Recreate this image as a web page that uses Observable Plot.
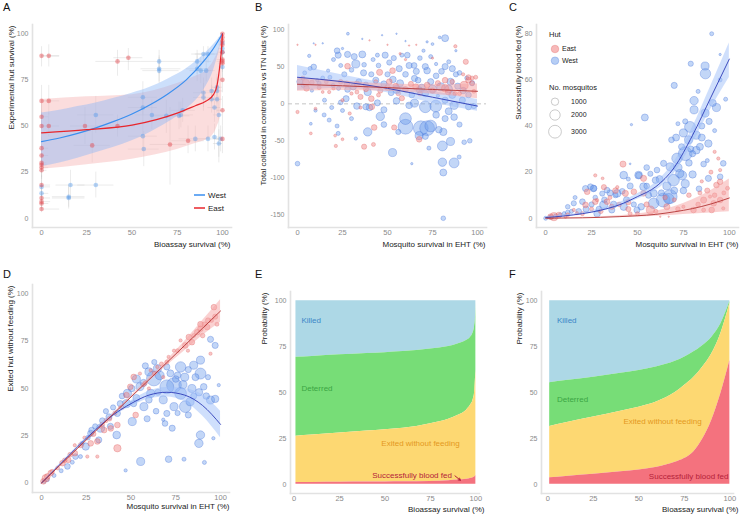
<!DOCTYPE html>
<html><head><meta charset="utf-8">
<script src="https://cdn.jsdelivr.net/npm/d3@7"></script>
<script src="https://cdn.jsdelivr.net/npm/@observablehq/plot@0.6"></script>
<style>
body{margin:0;background:#fff;}
#root{position:relative;width:740px;height:519px;overflow:hidden;background:#fff;font-family:'Liberation Sans',Arial,sans-serif;}
.lt{position:absolute;font-family:'Liberation Sans',Arial,sans-serif;font-size:11px;color:#111;line-height:1;}
</style></head><body><div id="root"></div>
<script>
const FONT = "'Liberation Sans',Arial,sans-serif";
// ---------- Panel A: points [x, y, xlo, xhi, ylo, yhi]
const aEast = [
 [0,88,0,10,82,93],[4,88,0,10,82,94],[42,85,30,55,77,91],[48,87,40,56,80,92],
 [0,63.6,0,6,55,72],[4,63.6,0,10,56,72],[0,55,0,4,48,62],[0,50,0,5,42,58],[4,50,0,10,44,57],
 [24,50,16,33,40,60],[42,50,32,52,44,56],[28,39.5,18,38,30,49],[71,40,60,80,18,60],
 [81,42,72,90,35,50],[100,43,97,100,35,50],
 [0,38,0,4,32,44],[0,34,0,4,28,40],[0,30,0,3,25,35],[0,29,0,3,24,34],[0,27.5,0,4,22,33],[0,26,0,3,21,31],
 [0,18,0,5,12,24],[0,11,0,5,7,15],[0,9,0,5,5,13],[0,8,0,4,5,11],[0,5,0,10,3,8],
 [100,100,99,100,97,100],[100,98,98,100,95,100],[100,96,98,100,93,99],[100,94,98,100,90,98],[100,90,98,100,86,94],
 [100,86,97,100,81,90],[100,85,97,100,80,90],[100,84,98,100,79,89],[100,75,97,100,68,82],[100,58.5,97,100,50,66]
];
const aWest = [
 [65,85,55,78,78,91],[65,81,55,77,74,88],[65,80,56,76,73,87],[86,85,78,94,78,91],[86,81,80,92,74,88],
 [88,80,82,94,73,87],[91,80,85,96,74,86],[89.5,89,83,96,84,93],[92,89,85,98,84,93],
 [100,95,98,100,91,98],[100,92,98,100,88,96],[100,90,98,100,85,94],[100,82,98,100,76,88],
 [30,56,20,40,46,66],[56,65.6,48,64,56,74],[56,60,48,64,52,68],[61,56,52,70,48,64],[69,55.5,62,76,46,64],
 [76,55.5,70,82,48,63],[77,56,70,84,49,63],[78,58.5,72,85,52,65],
 [89.5,68,84,95,60,76],[89.5,65.5,84,95,58,73],[94,69,90,98,62,76],[97,71,94,100,64,78],[97,69,94,100,62,76],
 [94,64.5,90,98,57,72],[97,64.5,94,100,57,72],[95.6,60,92,99,52,68],[98,56,95,100,30,66],
 [56,44.5,48,64,36,53],[56.5,37.5,48,65,28,47],[85,43,76,93,36,50],[92,43,86,98,36,50],[95.6,44,92,99,37,51],
 [98,40.5,95,100,33,48],[99,43,96,100,36,50],
 [16,18,8,24,10,26],[30,18,20,40,11,25],[0,17,0,5,11,23],[15,11.7,6,24,6,18],[15,11,6,24,5,17],[0,13.5,0,4,8,19]
];
const westX   = [0,10,20,30,40,50,60,70,80,90,95,100];
const westFit = [41.5,43.5,46,49,52.5,56.5,61.5,67.5,75,85.5,92,100];
const westLo  = [28,30,32.5,35.5,38.5,42,46.5,52,59,70,80,98];
const westHi  = [57,58.5,60.5,62.5,65,67.8,71,75.5,81,89,94,100];
const eastX   = [0,25,50,75,85,91,95,97,98.7,99.5,100];
const eastFit = [46.3,48,50.5,57,61,63.5,67,72,84,92,100];
const eastLo  = [26.5,29,32,37.3,40.5,42.5,45.5,49.5,55,65,100];
const eastHi  = [64.3,65.8,67,73,77,80,85,89,94,97,100];

// ---------- Panel B: [x, y, n mosquitos]
const bWest = [
[28,95,150],[47,93,40],[82,89,900],[79,90,150],[14,82,40],[9,82,30],
[22.6,66,700],[27.8,67,700],[31.5,64,700],[36,67,900],[32.4,54,1200],[36.7,42,700],[22,72,600],
[6.5,65,200],[9,50,600],[7,48,300],[1.3,30,700],
[44.4,66,300],[48.7,66,700],[53.5,62,500],[58,66,300],[61,66,600],
[56.5,47.7,700],[64.8,52,600],[71,50.5,700],[72,45,800],[77,54,200],[82,50.5,700],[86,47.7,700],
[65,34.5,700],[67,32,600],[74,30,700],[79.6,23,1200],
[43.5,32,700],[48,27,700],[39,16,1000],[55,19.5,1100],[52,15,600],
[27,7,700],[33,-3,800],[40,-5,800],[46,-17,1300],
[62,-2,800],[65,1,1200],[71,-4,2500],[76.8,-3,2500],[82,5,700],[87,-2,1200],
[60,-20,2500],[60,-31,4000],[68.5,-33,4000],[72,-33,4000],[74,-30,2500],[77,-15,800],[82,-20,700],[87,-18,800],
[39,-38,1300],[52.8,-66,1200],[67.6,-43,1200],[71,-44,700],[80.5,-57,1800],[85,-51,1200],[78.5,-35,800],[81,-38,1000],
[80.5,-79,1300],[87,-80,1800],[81,-93,900],[92.6,-52,400],[95.7,-50,400],[89.8,-72,300],
[0,-81,400],[63.5,-81,100],[81,-155,400],
[17.6,-22,300],[22,-30,300],[22.6,-40,300],[32.4,-47,200],[10,-9,200],[14.8,-15,300],[7.4,-27,150],[25,-9,300],[38,-4,700],
[22.8,21,300],[19.8,25,300],[14,35,300],[11,32,200],[27.8,19.5,600],[31,23,700],
[48,-8,700],[44.4,1.4,700],[55,4,800],[63.5,12,600],[67.6,19,700],[78,11,200],[91.6,5,700],[95,12,600],[97,28,500],
[85,30,900],[88,40,500],[90,42,400],[4,42,300],[17,45,200],[24,52,300],[37,53,400],[42,60,300],[51,56,500],
[68,62,400],[74,64,300],[84,57,300],[94,35,300],
[3,25,300],[8,18,200],[12,28,300],[18,36,300],[20,60,300],[26,40,500],[30,46,400],[34,30,600],[38,26,500],
[41,40,500],[45,52,400],[50,40,500],[53,33,800],[57,28,900],[60,40,600],[62,52,700],[66,44,700],[69,22,900],
[71,14,800],[75,20,1200],[77,38,600],[80,44,600],[84,20,1100],[86,12,900],[89,24,700],[92,18,800],[95,-4,700],
[98,-3,500],[84,-10,900],[90,-28,500],[73,-60,300],[56,-38,500],[48,-28,600],[30,-20,300],[15,5,300],[19,-5,300],
[24,2,400],[70,72,200],[75,81,150],[72,84,100],[88,72,100],[60,85,40],[55,95,40],[36,88,40],[25,75,100]
];
const bEast = [
[0,80,40],[10,80,40],[40,86,40],[50,80,40],[62,79,40],[66,80,40],[87.7,78,200],
[4.6,28.5,900],[5,21,600],[27.8,51,600],[27.4,27,600],[33,27,600],[45.6,42.7,700],[52.8,45,600],[51,30,600],[43.5,30,300],
[20,21,200],[17.6,16,200],[14,16,150],[30,14,200],[35,9.5,500],[41,7,600],[41.3,-4,600],[35,-5,200],[29,-13,200],
[0,-11,200],[10,-6.5,150],[7.4,-40,150],[20.9,-43,150],[21.3,-57,200],[25,-48,150],[37,-58,500],[42.2,-55,300],
[42.6,-32,600],[53.7,-32,500],[67.6,-48,600],
[82,32,600],[83.7,16,600],[87.5,14,300],[93.5,57,500],[95,32,600],[97,28,400],[92.6,25,1200],[82,21,1000],
[60,19.5,600],[58,7.7,500],[54.6,24,600],[65.7,23,700],[72,25.5,600],
[90,14,300],[98,17,300],[97,35,300],[92,40,200],
[3,35,300],[8,29,400],[12,22,300],[16,30,300],[24,30,400],[33,16,300],[38,20,500],[46,18,500],[50,22,600],
[56,14,400],[63,27,500],[68,14,400],[75,18,500],[78,28,500],[86,30,400],[95,36,500],[99,36,300],[45,12,300],
[25,5,200],[60,60,100],[57,68,100],[75,62,100]
];
const bX       = [0,25,50,75,100];
const bWestFit = [36,30,21,9,-3];
const bWestLo  = [18,21,15,1,-10];
const bWestHi  = [52,39,27,17,6];
const bEastFit = [26.5,24.5,22,19.5,17];
const bEastLo  = [17,18,17,13,7];
const bEastHi  = [35,31,27,26,27];

// ---------- Panel C: [x, y, n]
const cWest = [
[90.4,80,300],[95,71,100],[79,67,500],[86.8,66,1200],[87,62.7,2000],[70,57.6,700],[98,51.6,300],
[54,43.7,900],[46.7,40.6,100],[80.8,51,1300],[80.8,47,1200],[86.8,45.6,1200],[91,50,900],[93,48,1200],
[78.6,39.6,2200],[75,37,1200],[82,36,1200],[77.8,34,1200],[85,35,900],[88.6,32.4,1000],[71,35,900],[68.5,34,600],
[79,30,700],[82,29.5,1100],[74,31,700],
[76,28,3500],[71.5,26,2000],[67.8,22.3,1200],[64.2,23.8,700],[86,23.5,600],[88,25,300],[96.7,23.8,600],
[69.6,16.5,2500],[73,19.4,1200],[76,15,1200],[80,19,1000],
[64,7.9,3500],[67.8,9.4,3500],[58.8,6.5,2000],[56,10,700],[50.6,18.7,1100],[42.5,18.7,1100],[46,14,700],
[38.9,10.8,1100],[33.4,12.2,600],[26.2,13,700],[24.4,13.7,600],[20,7.2,600],[15.3,6.5,500],[10,2.2,200],
[5.4,1,300],[1.8,0.4,200],
[31.6,5.8,1200],[36,3.6,700],[42.5,5,1000],[49.7,3.6,700],[53.3,13.7,1100],[58.8,10.8,1000],[60.6,20.9,600],
[55,22,600],[46,23.6,60],[75,12,800],[83.5,12.8,600],[88.6,17.3,700],[95,18,600],
[0,0,300],[3,0.5,400],[8,1.5,300],[12,2.5,400],[18,3,600],[22,4,700],[28,2,800],
[12,5,400],[14,3,300],[16,9,300],[21.7,12.9,700],[26,12.9,800],[25,6,500],[27,9,400],[29,4,600],[30.8,10.7,500],
[32,8,600],[35,11,700],[37,6,800],[38,10,500],[41.7,11.7,600],[44,8,700],[45,17,300],[48,6,500],[50.7,18.6,700],
[52,5,800],[55,14,600],[57,19.3,500],[59.8,16.5,800],[62,17,900],[63,11,700],[66,14,1200],[67,8.5,2000],[70,12,900],
[72,22,1300],[74.3,18.6,1500],[78,24,800],[80,28,700],[84,31,900],[85,40,700],[72,41,300],[89,42,700],[92,38,300],
[76,42,500],[83,55,300],[95,60,300]
];
const cEast = [
[42.1,23.5,700],[53.3,17.3,700],[31,17.3,150],[22.6,11.5,600],[28,7.9,200],[33.4,7.2,600],[43.4,10.8,700],
[48,11.5,600],[39,13.5,200],[53.3,10.8,600],
[57,3.6,1200],[66,5,700],[80.5,3.6,600],[86,7.9,700],[89.5,9.4,200],[93,14.4,600],[95,15.8,600],[92,28.8,200],
[94,25.9,200],[95,20.9,200],
[86,3.6,300],[90.4,3.6,600],[96.7,4.3,200],[95,7.9,600],[91.5,6.5,600],[75,5,200],[62.4,0.7,40],[67,0.7,40],
[15.3,3.6,200],[10.8,0.7,200],[7.2,1.4,600],[4.5,0.7,1200],[2.7,0.7,600],[17,2.2,200],[21.7,5.8,600],[27,7.2,600],
[35,9,300],[40,6,400],[45,4,500],[50,2,300],[70,8,300],[78,10,400],[84,11,300],[97,11,300],
[27,18.6,200],[31.7,13.5,500],[38,12,600],[36,5,500],[25,4,300],[30,3,400],[45,7,500],[55,6,500],[60,3,300],
[65,9,400],[72,4,400],[83,6,400],[88,12,500],[92,10,400],[99,13,300],[90,20,300],[85,16,200],[46,2,300],
[20,2,300],[12,1.5,300]
];
const cX       = [0,10,20,30,40,50,60,70,80,90,100];
const cWestFit = [0.3,1,2,3.5,5.8,9.4,13.7,22,36,52.5,69];
const cWestLo  = [0.1,0.7,1.6,2.9,5,8.3,12,19.5,32.5,47.5,61];
const cWestHi  = [0.6,1.4,2.5,4.2,6.7,10.6,15.5,24.5,39.5,57.5,76];
const cEastFit = [0,0.1,0.2,0.4,0.7,1.1,1.7,2.8,4.2,6.2,8.8];
const cEastLo  = [0,0,0.1,0.2,0.4,0.6,0.9,1.3,1.8,2.3,2.8];
const cEastHi  = [0.1,0.2,0.4,0.7,1.1,1.8,3,5,8,12,17];

// ---------- Panel D: [x, y, n]
const dWest = [
[88.8,65,1200],[94.4,76,700],[97,72.8,700],[99,51.8,200],[88.8,25.4,1300],[87.9,21,1300],[96,23.7,200],
[77.7,61.4,2000],[85,62.3,1200],[88.8,57.9,2200],[94.4,43.9,1200],[97,44.5,1000],[90.6,50.9,800],
[70,61.4,700],[64.7,60.5,1200],[62.8,55.3,4000],[60,58.8,1200],[74,51.8,4000],[70,50.9,3500],[77.7,47.4,2500],
[80.3,40.4,2500],[83,43,1200],[74,40.4,1200],[70,36.8,700],[73,29,700],[69,31.5,600],[68,33.5,200],
[61,47.4,1200],[55,51,1200],[50.4,50,800],[48,47.4,1200],[47.5,42,1200],[51.5,42,700],[57.2,40.4,1200],
[59,34,700],[50.7,32.5,1200],[42.4,36.8,700],[44,42,700],
[55.4,11.4,1200],[71,12.6,800],[79.6,12.6,300],[91,10.9,300],[47,6.7,200],
[37.7,35,700],[33,29,1200],[32,22.8,700],[38.5,30,700],[27.5,26.3,700],[24.7,19.3,1000],[19,14,600],
[14.5,8.8,600],[11,6.5,300],[7,4,300],[3.3,1.8,300],[1.5,0.9,300],
[42,25.4,1100],[21.8,14,300],[17.2,11,300],[22.7,21,300],[65,48,700],[80,56,1200],[84,50,1200],[76,57,800],
[53,55,1200],[57,53,900],[58,62,700],[63,64,500],[66,57,1500],[68,44,1200],[72,58,900],[75,55,800],[79,52,1200],
[82,60,700],[86,56,900],[88,48,1000],[92,46,800],[93,56,500],[85,46,700],[82,36,700],[76,37,500],[64,38,600],
[60,44,800],[53,45,900],[45,46,600],[40,40,500],[36,38,500],[30,30,500],[28,28,600],[26,24,400],[34,33,600]
];
const dEast = [
[96.3,93,600],[88.8,84,600],[92.5,82.5,600],[87,79.8,600],[82.3,77.2,600],[84,74.5,600],[80.3,72.8,600],
[77.7,75.4,200],[74,70,200],[81.8,70,200],[71,66.7,200],[94.4,68.4,200],[88.8,81.6,600],
[64.7,61.4,200],[61,59.6,200],[55,57.9,200],[51.5,56.1,600],[49.6,50.9,600],[47.5,46.5,600],[52.6,36,600],
[42.4,30.7,600],[44,40,200],[38.7,28.9,600],[35,28,600],[33,29.8,200],[31.2,22,600],[27.5,21,600],[24,24,200],
[18.6,20,200],[18.6,15.8,600],[14.9,12.3,600],[11.7,10.5,600],[5.2,5.3,600],[3.3,3.5,600],[2.4,2.6,1000],
[1.1,0.9,600],[42.4,18.4,1000],[25.6,14,200],[31.2,14,200],
[36,33,300],[41,37,300],[57,52,300],[60,50,200],[67,63,300],[68,56,200],[90,78,400],[93,86,500],[98,84,300],
[6,6,400],[9,8,300],[13,12,400],[16,15,400],[22,20,500],[29,26,500],[34,31,400],[38,34,400],[45,40,300],
[58,53,300],[63,58,300],[70,64,300],[76,70,300],[85,78,300],[91,84,400],[95,86,300],[97,88,500]
];
const dX       = [0,10,20,30,40,50,60,70,80,90,100];
const dWestFit = [0,9.5,19,28,36,42,46.5,48,46.5,41,31];
const dWestLo  = [0,9,18.5,27.3,35,40.5,44.5,45.5,43,35.5,24];
const dWestHi  = [0,10,19.5,28.7,37,43.5,48.5,50.5,50,46.5,38];
const dEastFit = [0,9.1,18.2,27.3,36.4,45.5,54.6,63.7,72.8,81.9,91];
const dEastLo  = [0,9,18,27,36,45,53.5,62,70,78,85];
const dEastHi  = [0,9.2,18.4,27.6,36.8,46,55.5,65,75,86,97];

// ---------- Panels E & F: cumulative outcome boundaries (%)
const eX     = [1,10,25,40,50,60,75,85,90,95,97,98.5,99.3,99.8,100];
const eFed   = [1,1,1.1,1.2,1.3,1.4,1.6,2,2.3,2.8,3.2,3.6,4,4.5,5];
const eExit  = [26.2,26.8,28,29,29.7,30.5,33,35.5,37.5,40.5,43,46,50,58,62];
const eDeter = [69.2,69.6,70.5,71.2,71.7,72.3,73.7,75,76.4,78.5,80,82.5,86,91,98.5];
const fX     = [1,10,25,40,50,60,70,75,80,85,90,95,100];
const fFed   = [3.6,4.3,5.5,6.8,7.8,9.3,12,14,17.5,24.5,34.8,49.3,67.4];
const fExit  = [31.5,33.5,36.6,39.8,42,45,50,53.8,58,63.8,71,82,98.5];
const fDeter = [55.3,56.5,58.3,60.5,62,64,67,69.2,72,75.5,80,87.3,99.5];
const outcomeNames  = ["Killed","Deterred","Exited without feeding","Successfully blood fed"];
const outcomeFill   = ["#add8e6","#77dd77","#fdd872","#f4727e"];
const outcomeText   = ["#3b86c6","#3ca544","#e4991f","#b4223a"];
const eLabX = [4,4,48,43], eLabY = [89,52,22,4.6];
const fLabX = [5,5,41.5,55.5], fLabY = [89,46,34.5,4.4];
const eArrow = [88.5,4.6,91.5,2.2];

const COL = {west:"#3a8ff0", east:"#e8262c", wFill:"#6d9eeb", wStroke:"#3f6fd8", eFill:"#f08080", eStroke:"#df5a5a",
             wLine:"#2e3cb8", eLine:"#b33434", wRib:"#9fbff9", eRib:"#f6a4a4"};
const root = document.getElementById("root");
const ticks100 = [0,25,50,75,100];
const rScale = {type:"sqrt", domain:[0,3000], range:[0,6.4]};
const TITLE = 8, XTICK = 7.5, YTICK = 7;

function zipFit(xs, fit, lo, hi) { return xs.map((x,i)=>({x, fit:fit[i], lo:lo[i], hi:hi[i]})); }

function panel(o) {
  const opts = {
    width:o.w, height:o.h, marginLeft:o.ml, marginRight:o.mr, marginTop:o.mt, marginBottom:o.mb,
    x:{domain:o.xd}, y:{domain:o.yd},
    style:{fontFamily:FONT, background:"transparent", overflow:"visible", color:"#8a8a8a"},
    marks:[
      Plot.frame({anchor:"left", stroke:"#e2e2e2", strokeWidth:1.6}),
      Plot.frame({anchor:"bottom", stroke:"#e2e2e2", strokeWidth:1.6}),
      ...o.marks,
      Plot.axisX({ticks:o.xt, tickSize:0, tickPadding:2.5, tickFormat:d=>String(d), label:null, fill:"#8a8a8a", fontSize:XTICK}),
      Plot.axisY({ticks:o.yt, tickSize:0, tickPadding:4, tickFormat:d=>String(d), label:null, fill:"#8a8a8a", fontSize:YTICK}),
      Plot.text([o.xlab], {text:d=>d, frameAnchor:"bottom-right", textAnchor:"end", dy:o.xdy, dx:o.xdx||0, fontSize:TITLE, fill:"#222"}),
      Plot.text([o.ylab], {text:d=>d, frameAnchor:"top-left", textAnchor:"end", rotate:-90, dx:o.ydx, dy:1, fontSize:TITLE, fill:"#222"})
    ]
  };
  if (o.r) opts.r = o.r;
  const svg = Plot.plot(opts);
  svg.style.position = "absolute"; svg.style.left = o.left+"px"; svg.style.top = o.top+"px";
  root.appendChild(svg);
}

function bubbleMarks(west, east, fitX, wf, wl, wh, ef, el, eh) {
  const W = zipFit(fitX, wf, wl, wh), E = zipFit(fitX, ef, el, eh);
  return [
    Plot.dot(west, {x:d=>d[0], y:d=>d[1], r:d=>d[2], fill:COL.wFill, fillOpacity:0.42, stroke:COL.wStroke, strokeOpacity:0.55, strokeWidth:0.6}),
    Plot.dot(east, {x:d=>d[0], y:d=>d[1], r:d=>d[2], fill:COL.eFill, fillOpacity:0.45, stroke:COL.eStroke, strokeOpacity:0.5, strokeWidth:0.6}),
    Plot.areaY(W, {x:"x", y1:"lo", y2:"hi", fill:COL.wRib, fillOpacity:0.5, curve:"monotone-x"}),
    Plot.areaY(E, {x:"x", y1:"lo", y2:"hi", fill:COL.eRib, fillOpacity:0.5, curve:"monotone-x"}),
    Plot.line(W, {x:"x", y:"fit", stroke:COL.wLine, strokeWidth:0.9, curve:"monotone-x"}),
    Plot.line(E, {x:"x", y:"fit", stroke:COL.eLine, strokeWidth:0.9, curve:"monotone-x"})
  ];
}

// ----- A
{
  const W = zipFit(westX, westFit, westLo, westHi), E = zipFit(eastX, eastFit, eastLo, eastHi);
  const err = (data) => [
    Plot.ruleY(data, {y:d=>d[1], x1:d=>d[2], x2:d=>d[3], stroke:"#c8c8c8", strokeOpacity:0.45, strokeWidth:0.8}),
    Plot.ruleX(data, {x:d=>d[0], y1:d=>d[4], y2:d=>d[5], stroke:"#c8c8c8", strokeOpacity:0.45, strokeWidth:0.8})
  ];
  panel({left:0, top:0, w:245, h:260, ml:32, mr:14, mt:24, mb:33, xd:[-5,105], yd:[-5,105], xt:ticks100, yt:ticks100,
    xlab:"Bioassay survival (%)", xdy:19, xdx:-1, ylab:"Experimental hut survival (%)", ydx:-24,
    marks:[
      ...err(aWest), ...err(aEast),
      Plot.areaY(E, {x:"x", y1:"lo", y2:"hi", fill:"#f7b3b3", fillOpacity:0.45, curve:"monotone-x"}),
      Plot.areaY(W, {x:"x", y1:"lo", y2:"hi", fill:"#8fb8f7", fillOpacity:0.45, curve:"monotone-x"}),
      Plot.dot(aWest, {x:d=>d[0], y:d=>d[1], r:2.3, fill:"#4b97ee", fillOpacity:0.4}),
      Plot.dot(aEast, {x:d=>d[0], y:d=>d[1], r:2.3, fill:"#e5424a", fillOpacity:0.45}),
      Plot.line(W, {x:"x", y:"fit", stroke:COL.west, strokeWidth:1.2, curve:"monotone-x"}),
      Plot.line(E, {x:"x", y:"fit", stroke:COL.east, strokeWidth:1.2, curve:"monotone-x"})
    ]});
}
// ----- B
panel({left:245, top:0, w:245, h:260, ml:43, mr:4, mt:24, mb:33, xd:[-5,105], yd:[-167.5,107.5], xt:ticks100,
  yt:[-150,-100,-50,0,50,100], r:rScale,
  xlab:"Mosquito survival in EHT (%)", xdy:19, xdx:-1, ylab:"Total collected in control huts vs ITN huts (%)", ydx:-28,
  marks:[
    Plot.ruleY([0], {stroke:"#bdbdbd", strokeDasharray:"4,3", strokeWidth:0.9}),
    ...bubbleMarks(bWest, bEast, bX, bWestFit, bWestLo, bWestHi, bEastFit, bEastLo, bEastHi)
  ]});
// ----- C
panel({left:490, top:0, w:250, h:260, ml:46, mr:2, mt:24, mb:33, xd:[-5,105], yd:[-4,84], xt:ticks100,
  yt:[0,20,40,60,80], r:rScale,
  xlab:"Mosquito survival in EHT (%)", xdy:19, xdx:0, ylab:"Successfully blood fed (%)", ydx:-21,
  marks: bubbleMarks(cWest, cEast, cX, cWestFit, cWestLo, cWestHi, cEastFit, cEastLo, cEastHi)});
// ----- D
panel({left:0, top:260, w:245, h:259, ml:32, mr:16, mt:24, mb:27, xd:[-5,105], yd:[-5,105], xt:ticks100, yt:ticks100, r:rScale,
  xlab:"Mosquito survival in EHT (%)", xdy:16.5, xdx:0, ylab:"Exited hut without feeding (%)", ydx:-25,
  marks: bubbleMarks(dWest, dEast, dX, dWestFit, dWestLo, dWestHi, dEastFit, dEastLo, dEastHi)});

// ----- E & F
function stackMarks(xs, fed, exit, deter, labX, labY, arrow) {
  const rows = xs.map((x,i)=>({x, fed:fed[i], exit:exit[i], deter:deter[i]}));
  const labels = outcomeNames.map((t,i)=>({t, x:labX[i], y:labY[i], c:outcomeText[i]}));
  const m = [
    Plot.areaY(rows, {x:"x", y1:d=>d.deter, y2:100, fill:outcomeFill[0], curve:"monotone-x"}),
    Plot.areaY(rows, {x:"x", y1:"exit", y2:"deter", fill:outcomeFill[1], curve:"monotone-x"}),
    Plot.areaY(rows, {x:"x", y1:"fed", y2:"exit", fill:outcomeFill[2], curve:"monotone-x"}),
    Plot.areaY(rows, {x:"x", y1:0, y2:"fed", fill:outcomeFill[3], curve:"monotone-x"}),
    Plot.text(labels, {x:"x", y:"y", text:"t", fill:"c", textAnchor:"start", fontSize:TITLE})
  ];
  if (arrow) m.push(Plot.arrow([arrow], {x1:d=>d[0], y1:d=>d[1], x2:d=>d[2], y2:d=>d[3], stroke:outcomeText[3], strokeWidth:1, headLength:3.5}));
  return m;
}
panel({left:245, top:260, w:245, h:259, ml:45, mr:11, mt:31, mb:26, xd:[-2,102], yd:[-5,105], xt:ticks100, yt:ticks100,
  xlab:"Bioassay survival (%)", xdy:18.5, xdx:5, ylab:"Probability (%)", ydx:-29,
  marks: stackMarks(eX, eFed, eExit, eDeter, eLabX, eLabY, eArrow)});
panel({left:490, top:260, w:250, h:259, ml:51, mr:7, mt:31, mb:26, xd:[-3.5,102], yd:[-5,105], xt:ticks100, yt:ticks100,
  xlab:"Bioassay survival (%)", xdy:18.5, xdx:5, ylab:"Probability (%)", ydx:-25,
  marks: stackMarks(fX, fFed, fExit, fDeter, fLabX, fLabY, null)});

// ----- panel letters
const letters = [["A",3,2],["B",255,2],["C",509,2],["D",3,269],["E",255,269],["F",509,269]];
for (const [t,x,y] of letters) { const d = document.createElement("div"); d.className="lt"; d.textContent=t; d.style.left=x+"px"; d.style.top=y+"px"; root.appendChild(d); }

// ----- legends
const legA = document.createElement("div");
legA.style.cssText = "position:absolute;left:190px;top:188px;";
legA.innerHTML = `<svg width="50" height="28" style="font-family:${FONT.replace(/"/g,"'")};font-size:8px">
 <line x1="4" x2="15" y1="7" y2="7" stroke="${COL.west}" stroke-width="1.5"/><text x="18" y="7" dy="0.35em" fill="#222">West</text>
 <line x1="4" x2="15" y1="20" y2="20" stroke="${COL.east}" stroke-width="1.5"/><text x="18" y="20" dy="0.35em" fill="#222">East</text></svg>`;
root.appendChild(legA);
const legC = document.createElement("div");
legC.style.cssText = "position:absolute;left:540px;top:25px;";
legC.innerHTML = `<svg width="70" height="118" style="font-family:${FONT.replace(/"/g,"'")};fill:#222">
 <text x="9" y="9" dy="0.35em" font-size="7.5">Hut</text>
 <circle cx="15" cy="24" r="3.8" fill="${COL.eFill}" fill-opacity="0.55" stroke="${COL.eStroke}" stroke-opacity="0.5" stroke-width="0.6"/>
 <text x="22" y="24" dy="0.35em" font-size="7">East</text>
 <circle cx="15" cy="35.7" r="3.8" fill="${COL.wFill}" fill-opacity="0.5" stroke="${COL.wStroke}" stroke-opacity="0.5" stroke-width="0.6"/>
 <text x="22" y="35.7" dy="0.35em" font-size="7">West</text>
 <text x="9" y="62" dy="0.35em" font-size="7.5">No. mosquitos</text>
 <circle cx="15" cy="76.7" r="3.7" fill="none" stroke="#b5b5b5" stroke-width="0.7"/><text x="31" y="76.7" dy="0.35em" font-size="7">1000</text>
 <circle cx="15" cy="90" r="5.2" fill="none" stroke="#b5b5b5" stroke-width="0.7"/><text x="31" y="90" dy="0.35em" font-size="7">2000</text>
 <circle cx="15" cy="106.7" r="6.4" fill="none" stroke="#b5b5b5" stroke-width="0.7"/><text x="31" y="106.7" dy="0.35em" font-size="7">3000</text></svg>`;
root.appendChild(legC);
</script></body></html>
